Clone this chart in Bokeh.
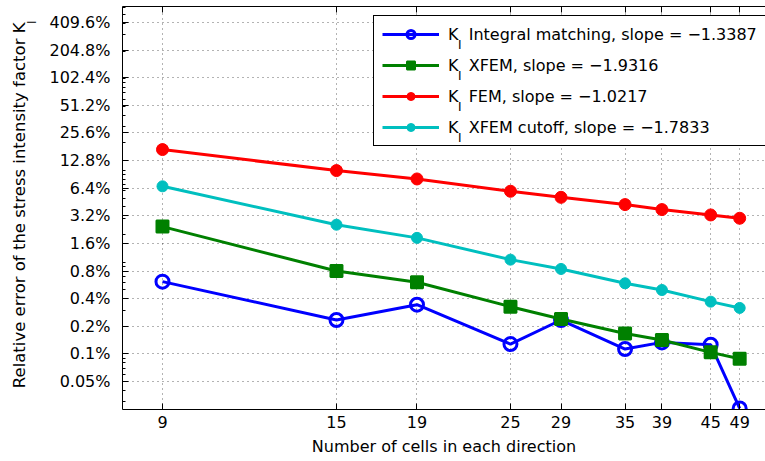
from bokeh.plotting import figure
from bokeh.models import (Range1d, FixedTicker, CustomJSTickFormatter, LogAxis,
                          Legend, LegendItem, Title)
from bokeh.embed import file_html
from bokeh.resources import INLINE

# ---- data ----
cells = [9, 15, 19, 25, 29, 35, 39, 45, 49]
err_integral = [0.613, 0.234, 0.344, 0.128, 0.234, 0.113, 0.1335, 0.126, 0.0254]
err_xfem = [2.44, 0.80, 0.603, 0.327, 0.240, 0.167, 0.1417, 0.1039, 0.0886]
err_fem = [16.88, 9.96, 8.07, 5.93, 5.09, 4.24, 3.74, 3.27, 3.01]
err_cutoff = [6.71, 2.56, 1.84, 1.065, 0.843, 0.588, 0.497, 0.371, 0.317]
series_names = ["Integral matching", "XFEM", "FEM", "XFEM cutoff"]
series_slopes = ["\u22121.3387", "\u22121.9316", "\u22121.0217", "\u22121.7833"]
y_ticks = [0.05, 0.1, 0.2, 0.4, 0.8, 1.6, 3.2, 6.4, 12.8, 25.6, 51.2, 102.4, 204.8, 409.6]

FONT = "DejaVu Sans"
FS = "16px"
SUB = "12px"

p = figure(width=765, height=461, x_axis_type="log", y_axis_type="log",
           x_range=Range1d(8.003, 52.86), y_range=Range1d(0.02476, 612.2),
           output_backend="svg", toolbar_location=None,
           min_border_left=122, min_border_right=0, min_border_top=6,
           min_border_bottom=52)
p.outline_line_color = None
p.background_fill_color = "white"
p.border_fill_color = "white"

# ticks
minor_y = []
for k in (-2, -1, 0, 1, 2):
    for m in range(1, 10):
        v = m * 10 ** k
        if 0.025 < v < 610:
            minor_y.append(v)
xt = FixedTicker(ticks=cells)
yt = FixedTicker(ticks=y_ticks, minor_ticks=minor_y)

xa = p.xaxis[0]
xa.ticker = xt
xa.formatter = CustomJSTickFormatter(code="return tick.toString()")
ya = p.yaxis[0]
ya.ticker = yt
ya.formatter = CustomJSTickFormatter(code="return tick.toString() + '%'")
for ax in (xa, ya):
    ax.major_tick_in = 6
    ax.major_tick_out = 0
    ax.minor_tick_in = 3
    ax.minor_tick_out = 0
    ax.axis_line_color = "black"
    ax.major_tick_line_color = "black"
    ax.minor_tick_line_color = "black"
    ax.major_label_text_font = FONT
    ax.major_label_text_font_size = FS
    ax.major_label_text_color = "black"
xa.major_label_standoff = 6
ya.major_label_standoff = 12
xa.axis_label = "Number of cells in each direction"
xa.axis_label_text_font = FONT
xa.axis_label_text_font_size = FS
xa.axis_label_text_font_style = "normal"
xa.axis_label_text_color = "black"
xa.axis_label_standoff = 6

top = LogAxis(ticker=xt, formatter=CustomJSTickFormatter(code="return ''"),
              major_label_text_font_size="1px", major_tick_in=6,
              major_tick_out=0, minor_tick_out=0, minor_tick_in=0,
              major_label_standoff=0, axis_line_color="black")
p.add_layout(top, "above")

p.xgrid.ticker = xt
p.ygrid.ticker = yt
for g in (p.xgrid[0], p.ygrid[0]):
    g.grid_line_color = "black"
    g.grid_line_alpha = 0.6
    g.grid_line_dash = "1 4"
    g.grid_line_width = 1

# y axis title: subscript column next to the ticks, main text outside it
t_sub = Title(text="I", align="right", vertical_align="top", offset=14, standoff=12,
              text_font=FONT, text_font_size=SUB, text_font_style="normal",
              text_color="black")
t_main = Title(text="Relative error of the stress intensity factor K", align="right",
               vertical_align="bottom", offset=16, standoff=-21,
               text_font=FONT, text_font_size="16.5px", text_font_style="normal",
               text_color="black")
p.add_layout(t_sub, "left")
p.add_layout(t_main, "left")

# series
r_int_l = p.line(cells, err_integral, line_color="#0000ff", line_width=3)
r_int_s = p.scatter(cells, err_integral, marker="circle", size=13, line_color="#0000ff",
                    line_width=3, fill_color=None)
r_xf_l = p.line(cells, err_xfem, line_color="#008000", line_width=3)
r_xf_s = p.scatter(cells, err_xfem, marker="square", size=12, line_color="#008000",
                   line_width=2, fill_color="#008000")
r_fem_l = p.line(cells, err_fem, line_color="#ff0000", line_width=3)
r_fem_s = p.scatter(cells, err_fem, marker="circle", size=12, line_color="#ff0000",
                    line_width=1, fill_color="#ff0000")
r_cut_l = p.line(cells, err_cutoff, line_color="#00bfbf", line_width=3)
r_cut_s = p.scatter(cells, err_cutoff, marker="circle", size=11, line_color="#00bfbf",
                    line_width=1, fill_color="#00bfbf")

renders = [(r_int_l, r_int_s), (r_xf_l, r_xf_s), (r_fem_l, r_fem_s), (r_cut_l, r_cut_s)]
items = []
for (rl, rs), name, slope in zip(renders, series_names, series_slopes):
    items.append(LegendItem(label="K\u00a0\u00a0" + name + ", slope = " + slope,
                            renderers=[rl, rs]))
legend = Legend(items=items, location=(251, 263))
legend.glyph_width = 57
legend.glyph_height = 20
legend.label_height = 20
legend.label_standoff = 9
legend.spacing = 11
legend.padding = 8
legend.margin = 0
legend.border_line_color = "black"
legend.border_line_width = 1
legend.border_line_alpha = 1
legend.background_fill_alpha = 1
legend.label_text_font = FONT
legend.label_text_font_size = FS
legend.label_text_color = "black"
p.add_layout(legend)

# subscript "I" of every legend label: a second, transparent legend on top
blank = p.line([], [], line_alpha=0)
sub_items = [LegendItem(label="I", renderers=[blank]) for _ in series_names]
sub_legend = Legend(items=sub_items, location=(335, 261))
sub_legend.glyph_width = 1
sub_legend.glyph_height = 1
sub_legend.label_height = 20
sub_legend.label_standoff = 0
sub_legend.spacing = 11
sub_legend.padding = 0
sub_legend.margin = 0
sub_legend.border_line_alpha = 0
sub_legend.background_fill_alpha = 0
sub_legend.label_text_font = FONT
sub_legend.label_text_font_size = SUB
sub_legend.label_text_color = "black"
p.add_layout(sub_legend)

open("out.html", "w").write(file_html(p, INLINE))
